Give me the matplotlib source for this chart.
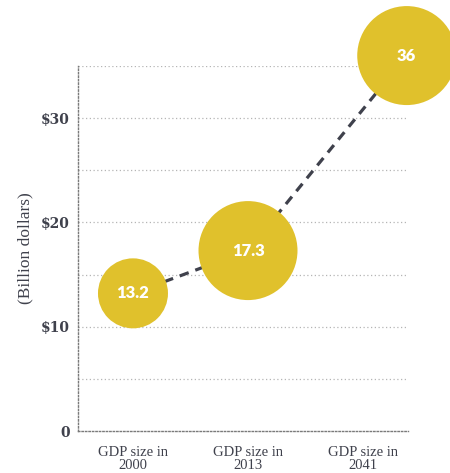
import matplotlib
matplotlib.use('Agg')
import matplotlib.pyplot as plt

# data
categories = ["GDP size in\n2000", "GDP size in\n2013", "GDP size in\n2041"]
gdp = [13.2, 17.3, 36]
labels = ["13.2", "17.3", "36"]
y_ticks = [0, 10, 20, 30]
y_ticklabels = ["0", "$10", "$20", "$30"]

# layout (the 2041 bubble sits past its label, at the right edge)
bubble_x = [0, 1, 2.38]
bubble_s = [2540, 5080, 5080]

yellow = "#e0c12c"
dark = "#3f414c"

fig = plt.figure(figsize=(4.5, 4.73), dpi=100)
ax = fig.add_axes([78 / 450, 42 / 473, 330 / 450, 365 / 473])

ax.set_xlim(-0.478, 2.391)
ax.set_ylim(0, 35)

# dotted grid
for v in range(5, 36, 5):
    ax.axhline(v, color="#b5b5b5", lw=0.9, ls=(0, (1, 2)), zorder=0)

for s in ["top", "right"]:
    ax.spines[s].set_visible(False)
for s in ["left", "bottom"]:
    ax.spines[s].set_color("#7a7a7a")
    ax.spines[s].set_linewidth(1.0)
    ax.spines[s].set_linestyle((0, (1, 1.5)))

# dashed connector
ax.plot(bubble_x, gdp, color=dark, lw=2.3, ls=(0, (3, 2.2)), zorder=1,
        clip_on=False)
ax.scatter(bubble_x, gdp, s=bubble_s, color=yellow, zorder=2, clip_on=False,
           linewidths=0)
for x, v, t in zip(bubble_x, gdp, labels):
    ax.text(x, v, t, ha="center", va="center", color="white",
            fontsize=12, fontweight="heavy", family="Lato", zorder=3)

ax.set_yticks(y_ticks)
ax.set_yticklabels(y_ticklabels, fontsize=10, fontweight="bold",
                   family="DejaVu Serif", color=dark)
ax.set_xticks(range(3))
ax.set_xticklabels(categories, fontsize=10.5, family="Liberation Serif",
                   color=dark, linespacing=0.95)
ax.tick_params(axis="both", length=0)
ax.tick_params(axis="y", pad=6)
ax.tick_params(axis="x", pad=11)

ax.set_ylabel("(Billion dollars)", fontsize=12.5, family="Liberation Serif",
              color=dark, labelpad=5)

fig.savefig("out.png", dpi=100)
